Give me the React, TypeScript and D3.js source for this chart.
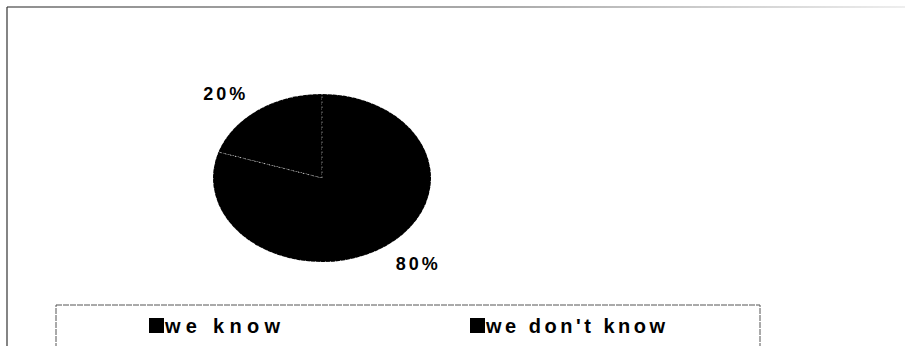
import React from "react";
import * as d3 from "d3";

const categories = ["we know", "we don't know"];
const values = [20, 80];
const labels = ["20%", "80%"];

const W = 905;
const H = 346;

export default function App() {
  const cx = 322;
  const cy = 178;
  const rx = 109;
  const ry = 84;
  const total = d3.sum(values);
  const pie = d3
    .pie<number>()
    .sort(null)
    .startAngle((-2 * Math.PI * values[0]) / total)
    .endAngle(2 * Math.PI - (2 * Math.PI * values[0]) / total);
  const arcs = pie(values);
  const arc = d3.arc<d3.PieArcDatum<number>>().innerRadius(0).outerRadius(1);
  const font = "'Liberation Sans', Arial, sans-serif";

  const legendX = d3.scalePoint<string>().domain(categories).range([149, 470]);

  return (
    <svg
      width={W}
      height={H}
      style={{ position: "absolute", left: 0, top: 0, background: "#fff" }}
    >
      <defs>
        <linearGradient id="fade" gradientUnits="userSpaceOnUse" x1="7" x2={W} y1="0" y2="0">
          <stop offset="0" stopColor="#222" />
          <stop offset="0.55" stopColor="#555" />
          <stop offset="1" stopColor="#ddd" />
        </linearGradient>
      </defs>
      {/* outer frame */}
      <line x1={7} y1={7} x2={W} y2={7} stroke="url(#fade)" strokeWidth={1.2} />
      <line x1={7} y1={7} x2={7} y2={H} stroke="#333" strokeWidth={1.2} />

      {/* pie */}
      <g transform={`translate(${cx},${cy}) scale(${rx},${ry})`}>
        {arcs.map((a, i) => (
          <path
            key={i}
            d={arc(a) || ""}
            fill="#000"
            stroke="#fff"
            strokeWidth={0.8}
            strokeDasharray="1 4"
            vectorEffect="non-scaling-stroke"
          />
        ))}
      </g>
      {arcs.map((a, i) => {
        const mid = (a.startAngle + a.endAngle) / 2;
        const sx = Math.sin(mid);
        const x = cx + 1.15 * rx * sx;
        const y = cy - 1.25 * ry * Math.cos(mid) + 7;
        return (
          <text
            key={i}
            x={x}
            y={y}
            textAnchor={sx < 0 ? "end" : "start"}
            fontFamily={font}
            fontWeight="bold"
            fontSize={18}
            letterSpacing={3}
            fill="#000"
          >
            {labels[i]}
          </text>
        );
      })}

      {/* legend */}
      <rect
        x={56}
        y={305}
        width={704}
        height={60}
        fill="none"
        stroke="#555"
        strokeWidth={1}
        strokeDasharray="6 1"
      />
      {categories.map((c, i) => {
        const x = legendX(c) || 0;
        return (
          <g key={c}>
            <rect x={x} y={318} width={15} height={15} fill="#000" />
            <text
              x={x + 16}
              y={333}
              fontFamily={font}
              fontWeight="bold"
              fontSize={20}
              textLength={i === 0 ? 115 : 179}
              lengthAdjust="spacing"
              fill="#000"
            >
              {c}
            </text>
          </g>
        );
      })}
    </svg>
  );
}
